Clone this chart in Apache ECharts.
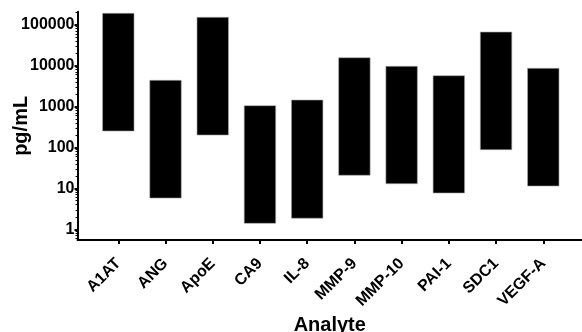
<!DOCTYPE html>
<html>
<head>
<meta charset="utf-8">
<script src="https://cdn.jsdelivr.net/npm/echarts@6/dist/echarts.min.js"></script>
<style>html,body{margin:0;padding:0;background:#fff}#c{width:582px;height:332px}</style>
</head>
<body>
<div id="c"></div>
<script>
const categories = ['A1AT','ANG','ApoE','CA9','IL-8','MMP-9','MMP-10','PAI-1','SDC1','VEGF-A'];
const lowValues  = [252, 5.8, 201, 1.40, 1.86, 20.9, 13.0, 7.7, 88, 11.4];
const highValues = [190000, 4380, 151700, 1050, 1445, 15600, 9620, 5670, 66300, 8600];
const yTickLabels = ['1','10','100','1000','10000','100000'];

const font = 'Liberation Sans, Arial, sans-serif';
const majorTicks = yTickLabels.map(s => Math.log10(Number(s)));
const minorTicks = [];
for (let d = -1; d <= 5; d++) {
  for (let k = 2; k <= 9; k++) {
    const v = Math.log10(k * Math.pow(10, d));
    if (v > -0.26 && v < 5.318) minorTicks.push(v);
  }
}
const catIdx = categories.map((c, i) => i);
const data = categories.map((c, i) => [i, Math.log10(lowValues[i]), Math.log10(highValues[i])]);

const chart = echarts.init(document.getElementById('c'), null, {renderer: 'canvas'});
chart.setOption({
  animation: false,
  backgroundColor: '#fff',
  grid: {left: 77.5, right: 0, top: 11.7, bottom: 92, containLabel: false, outerBoundsMode: 'none'},
  xAxis: {
    type: 'value', min: -0.864, max: 9.82,
    name: 'Analyte', nameLocation: 'middle', nameGap: 75, nameMoveOverlap: false,
    nameTextStyle: {fontFamily: font, fontWeight: 'bold', fontSize: 20, color: '#000'},
    axisLine: {show: true, onZero: false, lineStyle: {color: '#000', width: 2}},
    axisTick: {show: true, customValues: catIdx, length: 4, lineStyle: {color: '#000', width: 2}},
    axisLabel: {customValues: catIdx, rotate: 45, margin: 21, fontFamily: font, fontWeight: 'bold', fontSize: 16, color: '#000',
      formatter: v => categories[Math.round(v)]},
    splitLine: {show: false}
  },
  yAxis: [{
    type: 'value', min: -0.261, max: 5.318,
    name: 'pg/mL', nameLocation: 'middle', nameGap: 46, nameMoveOverlap: false,
    nameTextStyle: {fontFamily: font, fontWeight: 'bold', fontSize: 20, color: '#000'},
    axisLine: {show: true, onZero: false, lineStyle: {color: '#000', width: 2}},
    axisTick: {show: true, customValues: majorTicks, length: 3, lineStyle: {color: '#000', width: 2}},
    axisLabel: {customValues: majorTicks, margin: 3, fontFamily: font, fontWeight: 'bold', fontSize: 16, color: '#000',
      formatter: v => yTickLabels[Math.round(v)]},
    splitLine: {show: false}
  }, {
    type: 'value', min: -0.261, max: 5.318, position: 'left',
    axisLine: {show: false, onZero: false},
    axisTick: {show: true, customValues: minorTicks, length: 2, lineStyle: {color: '#000', width: 1}},
    axisLabel: {show: false},
    splitLine: {show: false}
  }],
  series: [{
    type: 'custom',
    data: data,
    encode: {x: 0, y: [1, 2]},
    renderItem: function (params, api) {
      const x = api.value(0);
      const top = api.coord([x, api.value(2)]);
      const bot = api.coord([x, api.value(1)]);
      const w = api.size([1, 0])[0] * 0.667;
      return {
        type: 'rect',
        shape: {x: top[0] - w / 2, y: top[1], width: w, height: bot[1] - top[1]},
        style: {fill: '#000', stroke: '#aaa', lineWidth: 0.6}
      };
    }
  }]
});
</script>
</body>
</html>
